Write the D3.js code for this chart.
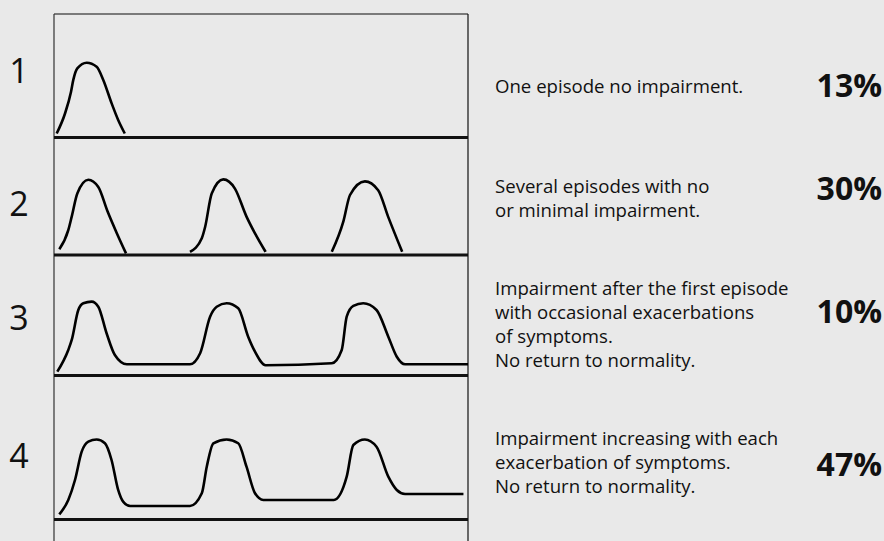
<!DOCTYPE html>
<html>
<head>
<meta charset="utf-8">
<script src="https://cdn.jsdelivr.net/npm/d3@7"></script>
<style>
  html, body { margin: 0; padding: 0; background: #e9e9e9; }
  svg { display: block; }
</style>
</head>
<body>
<svg id="chart" width="884" height="541"></svg>
<script>
// ---- Data ----
const rowLabels = ["1", "2", "3", "4"];
const descriptions = [
  ["One episode no impairment."],
  ["Several episodes with no", "or minimal impairment."],
  ["Impairment after the first episode", "with occasional exacerbations", "of symptoms.", "No return to normality."],
  ["Impairment increasing with each", "exacerbation of symptoms.", "No return to normality."]
];
const percentages = [13, 30, 10, 47];

// Course of illness: [time (0-100), impairment level (0-10)], one list of segments per row
const course1 = [
  [[0.65,0.5],[2.66,3.0],[4.1,5.7],[4.66,7.2],[5.63,8.65],[7.9,9.35],[10.3,8.85],[11.9,7.2],[13.9,4.3],[15.5,2.2],[17.1,0.5]]
];
const course2 = [
  [[1.28,0.71],[3.45,3.1],[4.28,4.8],[5.63,7.7],[8.29,9.4],[10.7,8.5],[12.9,5.5],[15.2,2.7],[17.4,0.2]],
  [[32.85,0.4],[35.7,2.1],[36.5,3.5],[38.1,7.7],[40.9,9.45],[43.7,8.3],[46.5,4.8],[48.55,2.7],[51.1,0.4]],
  [[67.1,0.4],[69.9,4.2],[71.5,7.5],[75.1,9.2],[78.3,8.1],[80.7,4.8],[84.1,0.4]]
];
const course3 = [
  [[0.8,0.48],[3.45,3.19],[4.28,4.44],[5.87,8.19],[7.08,9.03],[9.1,9.23],[10.7,8.6],[12.7,5.28],[14.7,2.56],[17.6,1.4],
   [32.85,1.4],[35.3,2.78],[37.7,7.35],[39.3,8.6],[41.7,9.03],[44.5,8.4],[46.9,4.85],[48.55,2.98],[51.1,1.28],
   [67.1,1.53],[69.5,3.19],[70.7,7.35],[72.3,8.69],[74.7,9.03],[77.9,8.19],[80.75,4.85],[82.8,2.35],[84.8,1.4],[100,1.4]]
];
const course4 = [
  [[1.28,0.65],[3.45,2.44],[5.07,4.94],[6.69,8.48],[8.29,9.73],[10.3,10.0],[12.3,9.53],[13.9,7.44],[15.5,3.69],[16.7,2.23],[18.4,1.69],
   [32.85,1.69],[35.7,3.28],[36.9,6.6],[38.5,9.53],[41.7,10.0],[44.5,9.53],[46.5,6.6],[48.55,3.28],[50.55,2.44],
   [67.6,2.44],[70.7,5.35],[72.3,9.31],[75.1,10.0],[77.9,9.1],[80.75,5.35],[82.8,3.69],[84.8,3.19],[98.9,3.19]]
];
const courses = [course1, course2, course3, course4];

// ---- Layout ----
const svg = d3.select("#chart");
const frame = { left: 54, right: 468, top: 14 };
const baselines = [137.5, 255, 375.5, 519.5];
const rowLabelBaselines = [83, 216, 330, 468];
const descBaselines = [93, 193, 295, 445];
const pctBaselines = [97, 200, 323, 476];
const lineHeight = 24;

const x = d3.scaleLinear().domain([0, 100]).range([frame.left, frame.right]);

const font = "'Open Sans', 'Noto Sans', sans-serif";

// Frame
svg.append("line").attr("x1", frame.left).attr("x2", frame.right)
  .attr("y1", frame.top).attr("y2", frame.top)
  .attr("stroke", "#555").attr("stroke-width", 1.5);
svg.append("line").attr("x1", frame.left).attr("x2", frame.left)
  .attr("y1", frame.top).attr("y2", 541)
  .attr("stroke", "#333").attr("stroke-width", 1.2);
svg.append("line").attr("x1", frame.right).attr("x2", frame.right)
  .attr("y1", frame.top).attr("y2", 541)
  .attr("stroke", "#111").attr("stroke-width", 1.2);

courses.forEach((segments, i) => {
  const y = d3.scaleLinear().domain([0, 10]).range([baselines[i], baselines[i] - 80]);

  // baseline (normal level)
  svg.append("line")
    .attr("x1", x(0)).attr("x2", x(100))
    .attr("y1", y(0)).attr("y2", y(0))
    .attr("stroke", "#111").attr("stroke-width", 3);

  const line = d3.line()
    .x(d => x(d[0])).y(d => y(d[1]))
    .curve(d3.curveMonotoneX);

  svg.append("g").selectAll("path")
    .data(segments)
    .join("path")
    .attr("d", line)
    .attr("fill", "none")
    .attr("stroke", "#000")
    .attr("stroke-width", 2.6)
    .attr("stroke-linejoin", "round");

  // row label
  svg.append("text")
    .attr("x", 19).attr("y", rowLabelBaselines[i])
    .attr("text-anchor", "middle")
    .attr("font-family", font).attr("font-size", 34)
    .attr("fill", "#111")
    .text(rowLabels[i]);

  // description
  const t = svg.append("text")
    .attr("font-family", font).attr("font-size", 18.6)
    .attr("fill", "#111");
  descriptions[i].forEach((s, j) => {
    t.append("tspan").attr("x", 495).attr("y", descBaselines[i] + j * lineHeight).text(s);
  });

  // percentage
  svg.append("text")
    .attr("x", 882).attr("y", pctBaselines[i])
    .attr("text-anchor", "end")
    .attr("font-family", font).attr("font-size", 32).attr("font-weight", 700)
    .attr("fill", "#111")
    .text(percentages[i] + "%");
});
</script>
</body>
</html>
